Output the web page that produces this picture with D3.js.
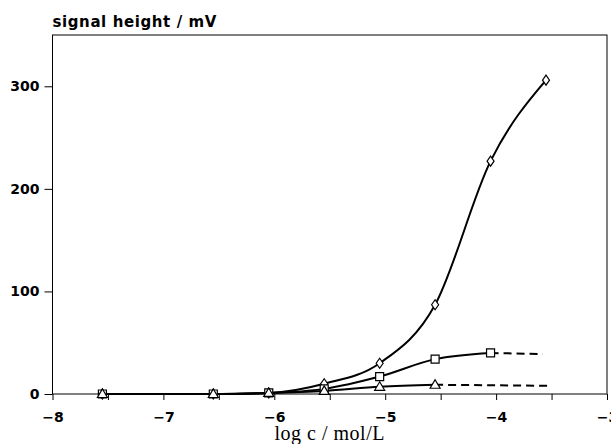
<!DOCTYPE html>
<html>
<head>
<meta charset="utf-8">
<script src="https://cdn.jsdelivr.net/npm/d3@7"></script>
<style>
  body { margin: 0; background: #fff; }
</style>
</head>
<body>
<div id="chart"></div>
<script>
// log concentrations of the measured points
var logC = [-7.55, -6.55, -6.05, -5.55, -5.05, -4.55, -4.05, -3.55];

// signal heights (mV)
var diamondVals = [0, 0, 1, 10, 30, 87, 227, 306];
var squareVals = [0, 0, 1, 5, 17, 34, 40];
var triangleVals = [0, 0, 1, 3, 7, 9];

// dashed continuations (no markers)
var squareDashX = [-4.05, -3.58];
var squareDashVals = [40, 39];
var triangleDashX = [-4.55, -3.53];
var triangleDashVals = [9, 8];

var xTicks = [-8, -7.5, -7, -6.5, -6, -5.5, -5, -4.5, -4, -3.5, -3];
var xLabels = [-8, -7, -6, -5, -4, -3];
var yTicks = [0, 100, 200, 300];

function zip(xs, ys) {
  var arr = [];
  for (var i = 0; i < ys.length; i++) {
    arr.push([xs[i], ys[i]]);
  }
  return arr;
}

var margin = {top: 35, right: 4, bottom: 50, left: 52.5},
  fullWidth = 611,
  fullHeight = 444,
  width = fullWidth - margin.left - margin.right,
  height = fullHeight - margin.top - margin.bottom;

var svg = d3.select("#chart").append("svg")
    .attr("width", fullWidth)
    .attr("height", fullHeight)
  .append("g")
    .attr("transform", "translate(" + margin.left + "," + margin.top + ")");

var x = d3.scaleLinear().domain([-8, -3]).range([0, width]);
var y = d3.scaleLinear().domain([0, 350]).range([height, 0]);

var tickFont = "'DejaVu Sans', sans-serif";

// x axis
var xAxis = svg.append("g")
    .attr("transform", "translate(0," + height + ")")
    .call(d3.axisBottom(x)
      .tickValues(xTicks)
      .tickSize(6)
      .tickFormat(function(d) { return xLabels.indexOf(d) >= 0 ? d3.format("")(d).replace("-", "\u2212") : ""; }));
xAxis.select(".domain").remove();
xAxis.selectAll("line").attr("stroke", "#000").attr("stroke-width", 1);
xAxis.selectAll("text")
    .attr("y", 18)
    .attr("dy", "0.71em")
    .style("font-family", tickFont)
    .style("font-weight", "bold")
    .style("font-size", "14px")
    .attr("fill", "#000");

// y axis
var yAxis = svg.append("g")
    .call(d3.axisLeft(y)
      .tickValues(yTicks)
      .tickSize(8)
      .tickPadding(5));
yAxis.select(".domain").remove();
yAxis.selectAll("line").attr("stroke", "#000").attr("stroke-width", 1);
yAxis.selectAll("text")
    .style("font-family", tickFont)
    .style("font-weight", "bold")
    .style("font-size", "14px")
    .attr("fill", "#000");

// frame
svg.append("rect")
    .attr("x", 0)
    .attr("y", 0)
    .attr("width", width)
    .attr("height", height)
    .attr("fill", "none")
    .attr("stroke", "#000")
    .attr("stroke-width", 1);

// axis titles
svg.append("text")
    .attr("x", 0)
    .attr("y", -8)
    .style("font-family", tickFont)
    .style("font-weight", "bold")
    .style("font-size", "15px")
    .style("letter-spacing", "0.6px")
    .text("signal height / mV");

svg.append("text")
    .attr("x", x(-5.5))
    .attr("y", height + 46)
    .attr("text-anchor", "middle")
    .style("font-family", "'Liberation Serif', serif")
    .style("font-size", "20px")
    .style("letter-spacing", "0.5px")
    .text("log c / mol/L");

var line = d3.line()
    .x(function(d) { return x(d[0]); })
    .y(function(d) { return y(d[1]); })
    .curve(d3.curveMonotoneX);

var straight = d3.line()
    .x(function(d) { return x(d[0]); })
    .y(function(d) { return y(d[1]); });

var series = [
  {vals: diamondVals, shape: "diamond"},
  {vals: squareVals, shape: "square"},
  {vals: triangleVals, shape: "triangle"}
];

// solid curves
series.forEach(function(s) {
  svg.append("path")
      .datum(zip(logC, s.vals))
      .attr("d", line)
      .attr("fill", "none")
      .attr("stroke", "#000")
      .attr("stroke-width", 2);
});

// dashed continuations
[[squareDashX, squareDashVals], [triangleDashX, triangleDashVals]].forEach(function(p) {
  svg.append("path")
      .datum(zip(p[0], p[1]))
      .attr("d", straight)
      .attr("fill", "none")
      .attr("stroke", "#000")
      .attr("stroke-width", 2)
      .attr("stroke-dasharray", "8,5");
});

// markers
var symbolPath = {
  diamond: "M0,-5L3.5,0L0,5L-3.5,0Z",
  square: "M-4,-4L4,-4L4,4L-4,4Z",
  triangle: "M0,-5L5,3.5L-5,3.5Z"
};

series.forEach(function(s) {
  svg.selectAll(".m-" + s.shape)
      .data(zip(logC, s.vals))
      .enter().append("path")
      .attr("class", "m-" + s.shape)
      .attr("transform", function(d) { return "translate(" + x(d[0]) + "," + y(d[1]) + ")"; })
      .attr("d", symbolPath[s.shape])
      .attr("fill", "#fff")
      .attr("stroke", "#000")
      .attr("stroke-width", 1.2);
});
</script>
</body>
</html>
